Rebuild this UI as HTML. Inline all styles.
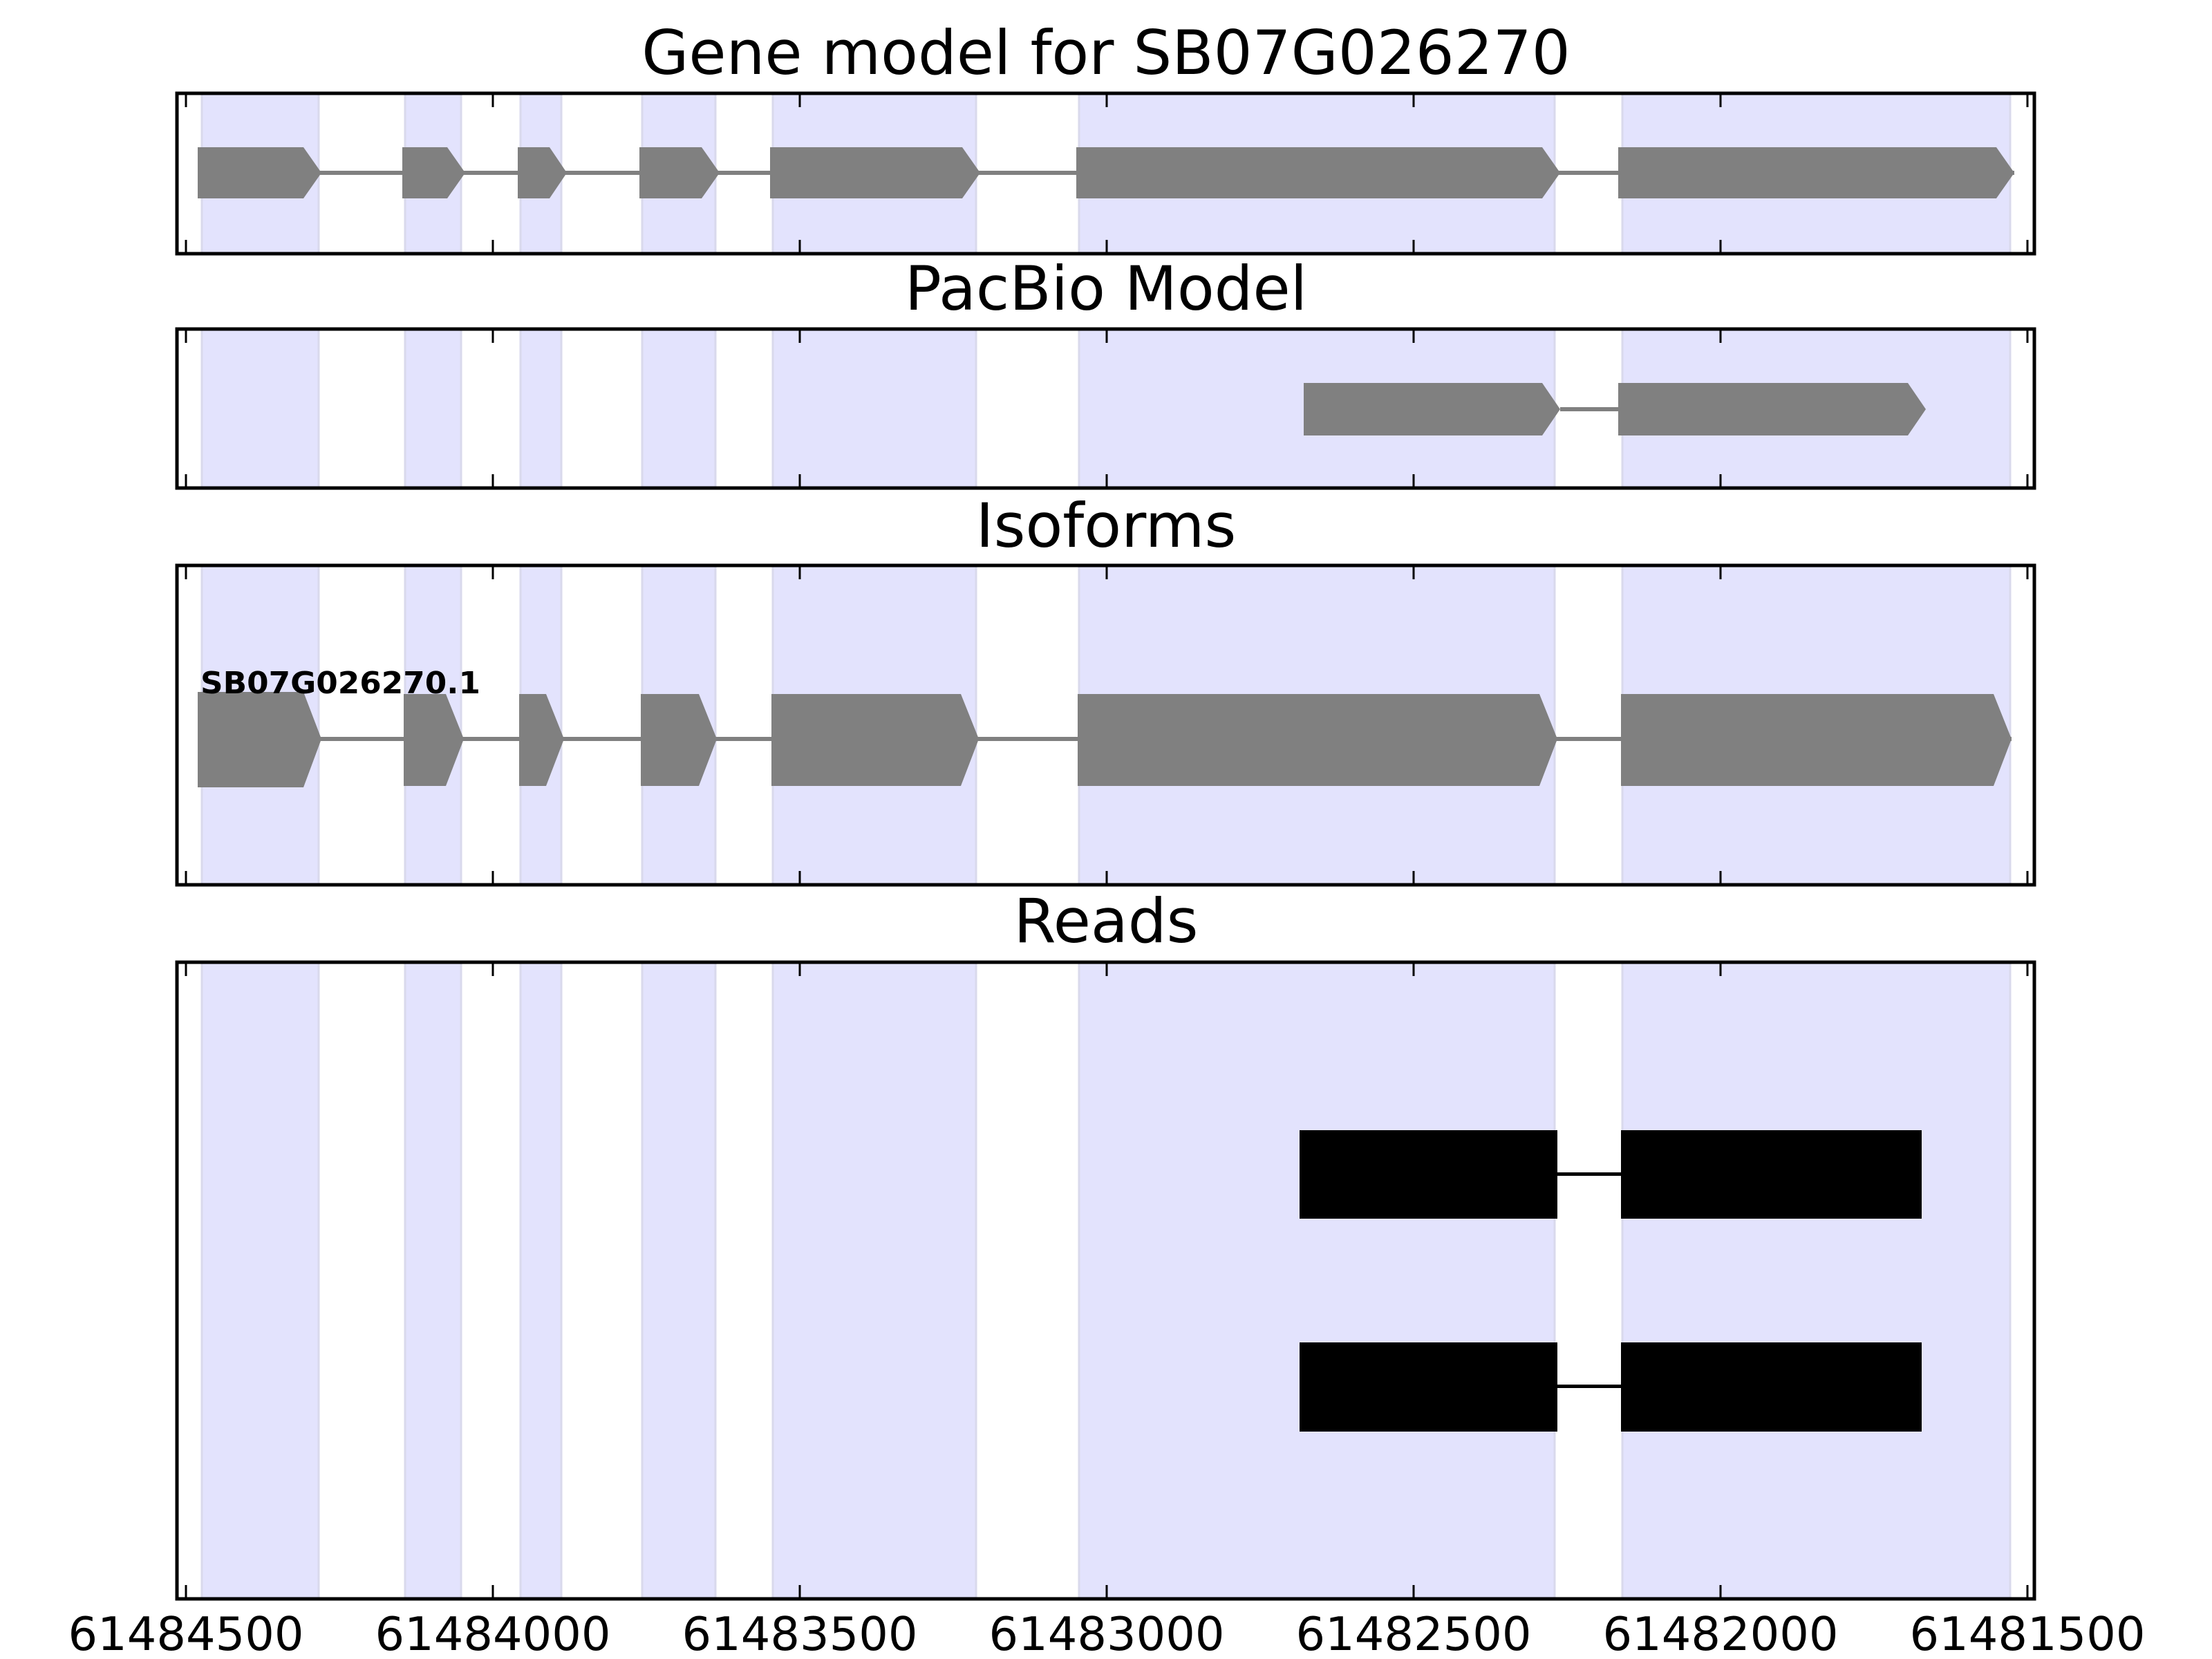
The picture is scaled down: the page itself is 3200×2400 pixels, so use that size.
<!DOCTYPE html>
<html><head><meta charset="utf-8"><style>html,body{margin:0;padding:0;background:#fff}svg{display:block}</style></head>
<body>
<svg width="3200" height="2400" viewBox="0 0 3200 2400" xmlns="http://www.w3.org/2000/svg" font-family="'DejaVu Sans','Liberation Sans',sans-serif">
<g fill="#e3e3fd" stroke="#d9d9ec" stroke-width="3">
<rect x="292" y="135" width="169" height="232"/><rect x="586" y="135" width="81" height="232"/><rect x="753" y="135" width="59" height="232"/><rect x="929" y="135" width="106" height="232"/><rect x="1118" y="135" width="294" height="232"/><rect x="1561" y="135" width="688" height="232"/><rect x="2347" y="135" width="561" height="232"/>
<rect x="292" y="476" width="169" height="230"/><rect x="586" y="476" width="81" height="230"/><rect x="753" y="476" width="59" height="230"/><rect x="929" y="476" width="106" height="230"/><rect x="1118" y="476" width="294" height="230"/><rect x="1561" y="476" width="688" height="230"/><rect x="2347" y="476" width="561" height="230"/>
<rect x="292" y="818" width="169" height="462"/><rect x="586" y="818" width="81" height="462"/><rect x="753" y="818" width="59" height="462"/><rect x="929" y="818" width="106" height="462"/><rect x="1118" y="818" width="294" height="462"/><rect x="1561" y="818" width="688" height="462"/><rect x="2347" y="818" width="561" height="462"/>
<rect x="292" y="1392" width="169" height="921"/><rect x="586" y="1392" width="81" height="921"/><rect x="753" y="1392" width="59" height="921"/><rect x="929" y="1392" width="106" height="921"/><rect x="1118" y="1392" width="294" height="921"/><rect x="1561" y="1392" width="688" height="921"/><rect x="2347" y="1392" width="561" height="921"/>
</g>
<g fill="#808080">
<rect x="286" y="247" width="2628" height="6"/>
<polygon points="286,213 439,213 465,250 439,287 286,287"/>
<polygon points="582,213 647,213 673,250 647,287 582,287"/>
<polygon points="749,213 795,213 820,250 795,287 749,287"/>
<polygon points="925,213 1015,213 1041,250 1015,287 925,287"/>
<polygon points="1114,213 1392,213 1418,250 1392,287 1114,287"/>
<polygon points="1557,213 2231,213 2257,250 2231,287 1557,287"/>
<polygon points="2341,213 2888,213 2914,250 2888,287 2341,287"/>
</g>
<g fill="#808080">
<rect x="2257" y="589" width="84" height="6"/>
<polygon points="1886,554 2231,554 2257,592 2231,630 1886,630"/>
<polygon points="2341,554 2760,554 2786,592 2760,630 2341,630"/>
</g>
<g fill="#808080">
<rect x="286" y="1066" width="2624" height="6"/>
<polygon points="286,1001 439,1001 465,1069 439,1139 286,1139"/>
<polygon points="584,1004 645,1004 671,1069 645,1137 584,1137"/>
<polygon points="751,1004 790,1004 816,1069 790,1137 751,1137"/>
<polygon points="927,1004 1011,1004 1037,1069 1011,1137 927,1137"/>
<polygon points="1116,1004 1390,1004 1416,1069 1390,1137 1116,1137"/>
<polygon points="1559,1004 2227,1004 2253,1069 2227,1137 1559,1137"/>
<polygon points="2345,1004 2884,1004 2910,1069 2884,1137 2345,1137"/>
</g>
<text x="290" y="1003" font-size="44" font-weight="bold" textLength="405" lengthAdjust="spacingAndGlyphs">SB07G026270.1</text>
<g fill="#000">
<rect x="2253" y="1696" width="92" height="5"/>
<rect x="1880" y="1635" width="373" height="128"/>
<rect x="2345" y="1635" width="435" height="128"/>
<rect x="2253" y="2003" width="92" height="5"/>
<rect x="1880" y="1942" width="373" height="129"/>
<rect x="2345" y="1942" width="435" height="129"/>
</g>
<g fill="none" stroke="#000" stroke-width="5">
<rect x="256" y="135" width="2687" height="232"/>
<rect x="256" y="476" width="2687" height="230"/>
<rect x="256" y="818" width="2687" height="462"/>
<rect x="256" y="1392" width="2687" height="921"/>
</g>
<g stroke="#000" stroke-width="3">
<path d="M269,137v18M713,137v18M1157,137v18M1601,137v18M2045,137v18M2489,137v18M2933,137v18
M269,365v-18M713,365v-18M1157,365v-18M1601,365v-18M2045,365v-18M2489,365v-18M2933,365v-18
M269,478v18M713,478v18M1157,478v18M1601,478v18M2045,478v18M2489,478v18M2933,478v18
M269,704v-18M713,704v-18M1157,704v-18M1601,704v-18M2045,704v-18M2489,704v-18M2933,704v-18
M269,820v18M713,820v18M1157,820v18M1601,820v18M2045,820v18M2489,820v18M2933,820v18
M269,1278v-18M713,1278v-18M1157,1278v-18M1601,1278v-18M2045,1278v-18M2489,1278v-18M2933,1278v-18
M269,1394v18M713,1394v18M1157,1394v18M1601,1394v18M2045,1394v18M2489,1394v18M2933,1394v18
M269,2311v-18M713,2311v-18M1157,2311v-18M1601,2311v-18M2045,2311v-18M2489,2311v-18M2933,2311v-18"/>
</g>
<g font-size="88" text-anchor="middle" fill="#000">
<text x="1600" y="107">Gene model for SB07G026270</text>
<text x="1600" y="448">PacBio Model</text>
<text x="1600" y="791">Isoforms</text>
<text x="1600" y="1363">Reads</text>
</g>
<g font-size="67" text-anchor="middle" fill="#000">
<text x="269" y="2387">61484500</text>
<text x="713" y="2387">61484000</text>
<text x="1157" y="2387">61483500</text>
<text x="1601" y="2387">61483000</text>
<text x="2045" y="2387">61482500</text>
<text x="2489" y="2387">61482000</text>
<text x="2933" y="2387">61481500</text>
</g>
</svg>
</body></html>
